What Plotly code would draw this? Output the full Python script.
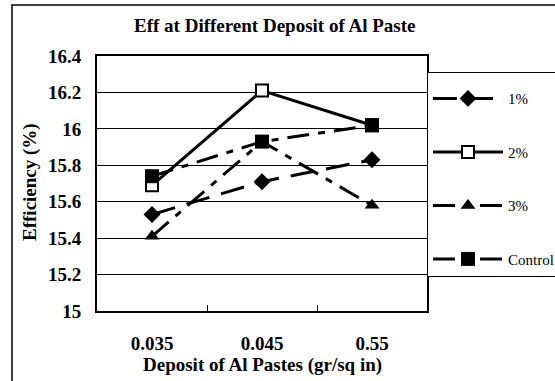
import plotly.graph_objects as go

categories = ["0.035", "0.045", "0.55"]
series_names = ["1%", "2%", "3%", "Control"]
eff_1 = [15.53, 15.71, 15.83]
eff_2 = [15.69, 16.21, 16.02]
eff_3 = [15.41, 15.93, 15.58]
eff_control = [15.74, 15.93, 16.02]
y_ticks = [15, 15.2, 15.4, 15.6, 15.8, 16, 16.2, 16.4]
y_tick_labels = ["15", "15.2", "15.4", "15.6", "15.8", "16", "16.2", "16.4"]

SERIF = "Liberation Serif"

styles = [
    dict(dash="24px,12px", symbol="diamond", size=13, fill="black", mline=0),
    dict(dash="solid", symbol="square", size=12, fill="white", mline=2),
    dict(dash="22px,9px,7px,9px", symbol="triangle-up", size=13, fill="black", mline=0),
    dict(dash="22px,9px,7px,9px", symbol="square", size=14, fill="black", mline=0),
]
values = [eff_1, eff_2, eff_3, eff_control]

fig = go.Figure()
for name, vals, st in zip(series_names, values, styles):
    fig.add_trace(go.Scatter(
        x=categories, y=vals, name=name, legendgroup=name,
        mode="lines+markers",
        line=dict(color="black", width=3, dash=st["dash"]),
        marker=dict(symbol=st["symbol"], size=st["size"], color=st["fill"],
                    line=dict(color="black", width=st["mline"])),
    ))

fig.update_layout(
    width=555, height=381,
    margin=dict(l=97, r=128, t=56, b=70, autoexpand=False),
    paper_bgcolor="white", plot_bgcolor="white",
    font=dict(family=SERIF, color="black"),
    showlegend=True,
    legend=dict(x=1.0, y=0.937, xanchor="left", yanchor="top",
                bgcolor="white", bordercolor="black", borderwidth=1,
                font=dict(family=SERIF, size=15, color="black"),
                title=dict(text=" ", font=dict(size=7)),
                itemwidth=70, tracegroupgap=31),
    title=dict(text="Eff at Different Deposit of Al Paste",
               font=dict(family=SERIF, size=19, weight="bold"),
               xref="container", x=0.495, yref="container", y=0.934,
               xanchor="center", yanchor="middle"),
)

fig.update_xaxes(
    type="category", range=[-0.5, 2.5],
    tickson="boundaries", ticks="inside", ticklen=6, tickwidth=1, tickcolor="black",
    showgrid=False, showline=True, linecolor="black", linewidth=2, mirror=True,
    tickfont=dict(family=SERIF, size=19, weight="bold"),
    ticklabelstandoff=14,
)
fig.update_yaxes(
    range=[15, 16.4], tickmode="array", tickvals=y_ticks, ticktext=y_tick_labels,
    showgrid=True, gridcolor="black", gridwidth=1,
    showline=True, linecolor="black", linewidth=2, mirror=True,
    ticks="", ticklabelstandoff=10,
    tickfont=dict(family=SERIF, size=19, weight="bold"),
    zeroline=False,
)

fig.add_annotation(text="Deposit of Al Pastes (gr/sq in)", xref="paper", yref="paper",
                   x=0.5, y=-0.21, xanchor="center", yanchor="middle", showarrow=False,
                   font=dict(family=SERIF, size=19, weight="bold"))
fig.add_annotation(text="Efficiency (%)", xref="paper", yref="paper",
                   x=-0.203, y=0.506, xanchor="center", yanchor="middle", showarrow=False,
                   textangle=-90, font=dict(family=SERIF, size=19, weight="bold"))

fig.add_shape(type="rect", xref="paper", yref="paper",
              x0=-0.2576, x1=1.6, y0=-0.7, y1=1.2,
              line=dict(color="black", width=1.5), layer="above")

fig.write_html("out.html")
